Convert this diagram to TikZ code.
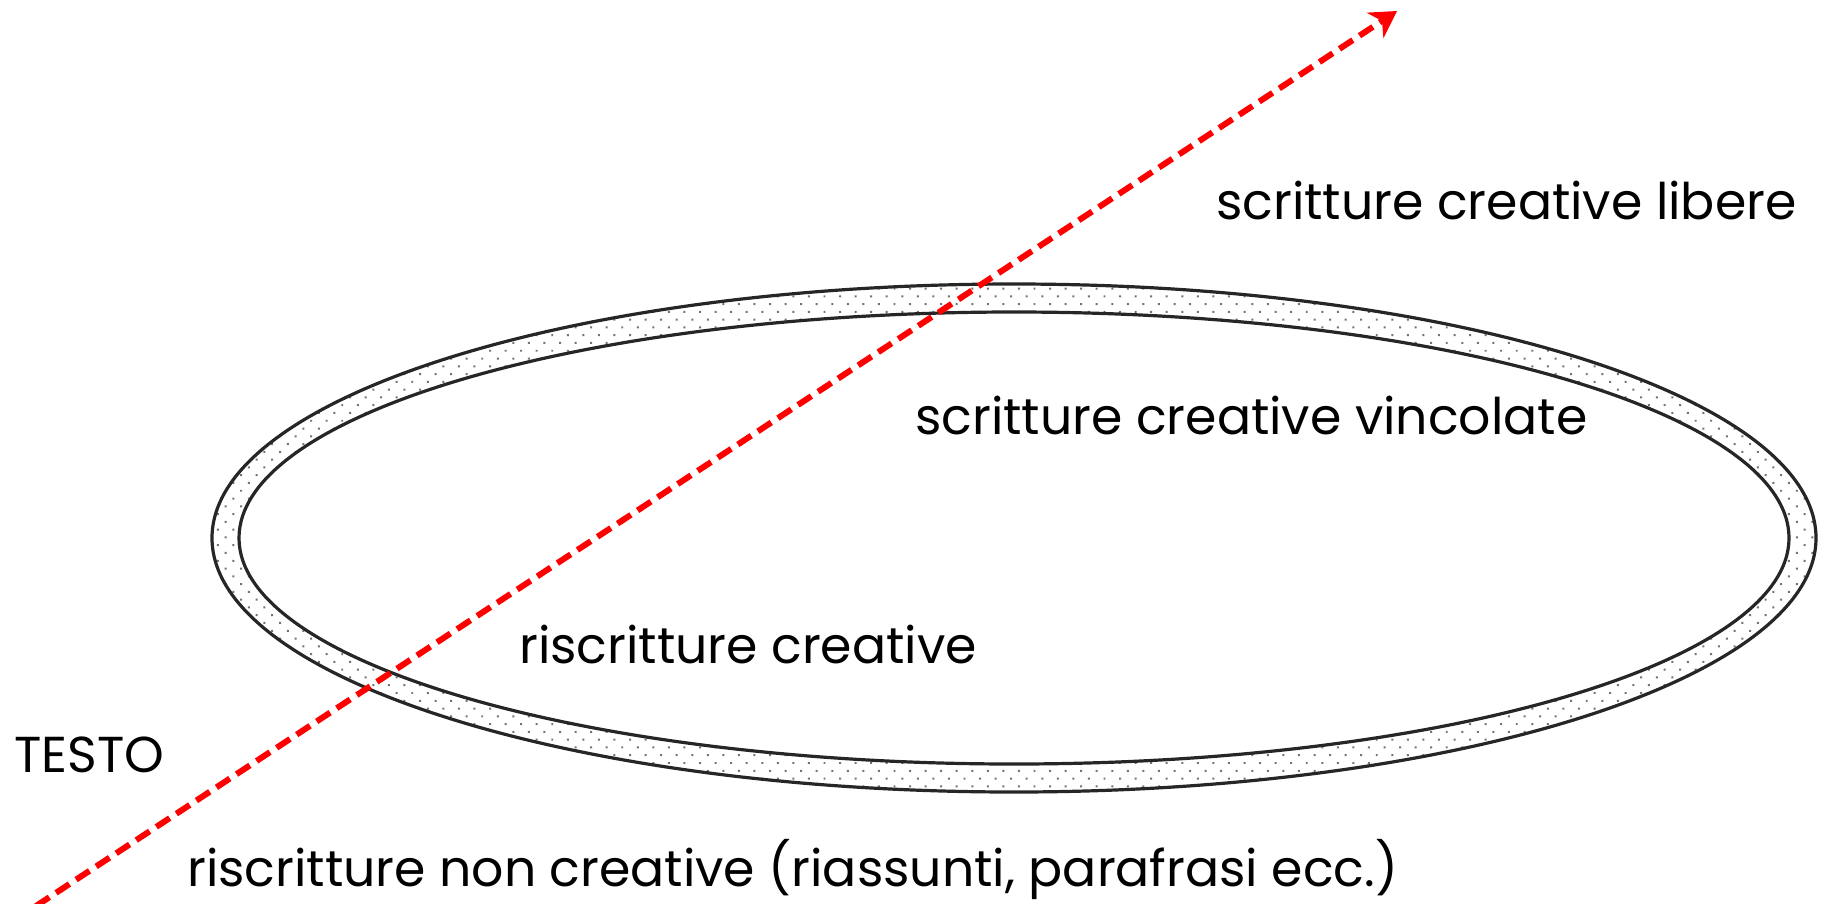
\documentclass[tikz,border=0pt]{standalone}
\usepackage{fontspec}
\setmainfont{Poppins}
\usetikzlibrary{arrows.meta,patterns.meta}

\tikzset{
  lbl/.style={anchor=base west, inner sep=0pt, font=\fontsize{50.5}{56}\selectfont},
  ringline/.style={line width=3.2pt, black!85},
  redarrow/.style={red, line width=6pt, dash pattern=on 16pt off 8pt,
    -{Stealth[length=26pt,width=30pt,inset=8pt]}}
}

\begin{document}
\begin{tikzpicture}[x=1pt, y=-1pt]

  %%-- PAGE (1822 x 903 px) --%%
  \useasboundingbox (0,0) rectangle (1822,903);

  %%-- RING (outer / inner ellipse, dotted band) --%%
  \coordinate (c) at (1014,538);
  \fill[even odd rule, pattern={Dots[distance=11pt, radius=1.4pt, angle=45]},
        pattern color=black!55]
    (c) ellipse [x radius=802, y radius=254]
    (c) ellipse [x radius=775, y radius=226];
  \draw[ringline] (c) ellipse [x radius=802, y radius=254];  % outer edge
  \draw[ringline] (c) ellipse [x radius=775, y radius=226];  % inner edge

  %%-- LABELS --%%
  \node[lbl] (libere)    at (1216,219) {scritture creative libere};
  \node[lbl] (vincolate) at (915,434)  {scritture creative vincolate};
  \node[lbl] (riscr)     at (519,663)  {riscritture creative};
  \node[lbl] (testo)     at (14,772)   {TESTO};
  \node[lbl] (noncr)     at (187,886)  {riscritture non creative (riassunti, parafrasi ecc.)};

  %%-- RED DASHED ARROW (from bottom left to top right) --%%
  \coordinate (start) at (36,906);
  \coordinate (tip)   at (1397,11);
  \draw[redarrow] (start) -- (tip);

\end{tikzpicture}
\end{document}
